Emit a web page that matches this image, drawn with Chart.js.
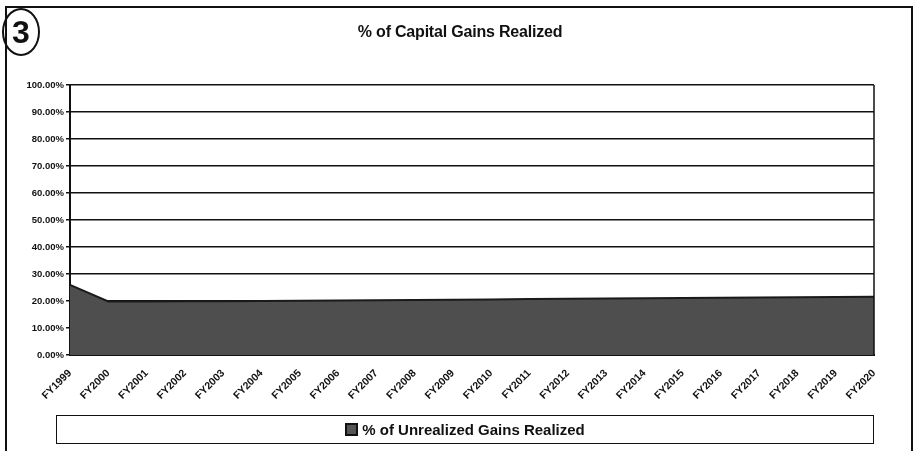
<!DOCTYPE html>
<html>
<head>
<meta charset="utf-8">
<script src="https://cdn.jsdelivr.net/npm/chart.js@4.4.1/dist/chart.umd.min.js"></script>
<style>
  body { margin: 0; background: #fff; font-family: "Liberation Sans", Arial, sans-serif; }
  #wrap { position: relative; width: 920px; height: 451px; overflow: hidden; }
  #frame { position: absolute; left: 5px; top: 6px; width: 904px; height: 460px; border: 2px solid #111; }
  #title { position: absolute; left: 0; width: 920px; top: 23px; text-align: center; font-weight: bold; font-size: 16px; color: #111; letter-spacing: -0.2px; }
  #mark { position: absolute; left: 2px; top: 8px; width: 34px; height: 44px; border: 2.5px solid #111; border-radius: 50%;
          font-size: 32px; font-weight: bold; line-height: 44px; text-align: center; color: #111; }
  #legend { position: absolute; left: 56px; top: 415px; width: 816px; height: 27px; border: 1.5px solid #111;
            text-align: center; font-size: 15px; font-weight: bold; line-height: 27px; color: #111; }
  #legend span.sw { display: inline-block; width: 9px; height: 9px; border: 2px solid #111; background: #555; margin-right: 4px; vertical-align: -1px; }
  canvas { position: absolute; left: 0; top: 0; }
</style>
</head>
<body>
<div id="wrap">
  <canvas id="gainsChart" width="920" height="451"></canvas>
  <div id="frame"></div>
  <div id="mark">3</div>
  <div id="title">% of Capital Gains Realized</div>
  <div id="legend"><span class="sw"></span>% of Unrealized Gains Realized</div>
</div>
<script>
// fiscal years on the x axis
const years = ['FY1999', 'FY2000', 'FY2001', 'FY2002', 'FY2003', 'FY2004', 'FY2005', 'FY2006',
  'FY2007', 'FY2008', 'FY2009', 'FY2010', 'FY2011', 'FY2012', 'FY2013', 'FY2014', 'FY2015',
  'FY2016', 'FY2017', 'FY2018', 'FY2019', 'FY2020'];

// % of unrealized gains realized
const pctRealized = [26.0, 19.8, 19.8, 19.9, 19.9, 20.0, 20.1, 20.2, 20.3, 20.4, 20.5, 20.6,
  20.7, 20.8, 20.9, 21.0, 21.1, 21.2, 21.3, 21.4, 21.5, 21.6];

const yTicks = [0, 10, 20, 30, 40, 50, 60, 70, 80, 90, 100];

document.addEventListener("DOMContentLoaded", function () {
    const ctx = document.getElementById('gainsChart').getContext('2d');

    new Chart(ctx, {
        type: 'line',
        data: {
            labels: years,
            datasets: [{
                label: '% of Unrealized Gains Realized',
                data: pctRealized,
                fill: 'origin',
                backgroundColor: '#4e4e4e',
                borderColor: '#1a1a1a',
                borderWidth: 2,
                pointRadius: 0,
                tension: 0
            }]
        },
        options: {
            responsive: false,
            animation: false,
            layout: { padding: { left: 8, right: 46, top: 85, bottom: 0 } },
            plugins: {
                legend: { display: false },
                title: { display: false },
                tooltip: { enabled: false }
            },
            scales: {
                x: {
                    offset: false,
                    grid: { display: false, drawTicks: true, tickLength: 4, color: '#111' },
                    border: { color: '#111', width: 2 },
                    ticks: {
                        maxRotation: 45, minRotation: 45, autoSkip: false,
                        color: '#111', padding: 8,
                        font: { family: 'Liberation Sans', size: 10.5, weight: 'bold' }
                    },
                    afterFit: function (scale) { scale.height = 96; }
                },
                y: {
                    min: 0, max: 100,
                    afterBuildTicks: function (scale) { scale.ticks = yTicks.map(v => ({ value: v })); },
                    grid: { color: '#111', lineWidth: 1.5, tickLength: 4 },
                    border: { color: '#111', width: 2 },
                    ticks: {
                        color: '#111', padding: 2,
                        font: { family: 'Liberation Sans', size: 9.5, weight: 'bold' },
                        callback: v => v.toFixed(2) + '%'
                    },
                    afterFit: function (scale) { scale.width = 62; }
                }
            }
        },
        plugins: [{
            id: 'plotFrame',
            afterDraw: function (chart) {
                const a = chart.chartArea, c = chart.ctx;
                c.save();
                c.strokeStyle = '#111';
                c.lineWidth = 1.5;
                c.beginPath();
                c.moveTo(a.right, a.top);
                c.lineTo(a.right, a.bottom);
                c.stroke();
                c.restore();
            }
        }]
    });
});
</script>
</body>
</html>
